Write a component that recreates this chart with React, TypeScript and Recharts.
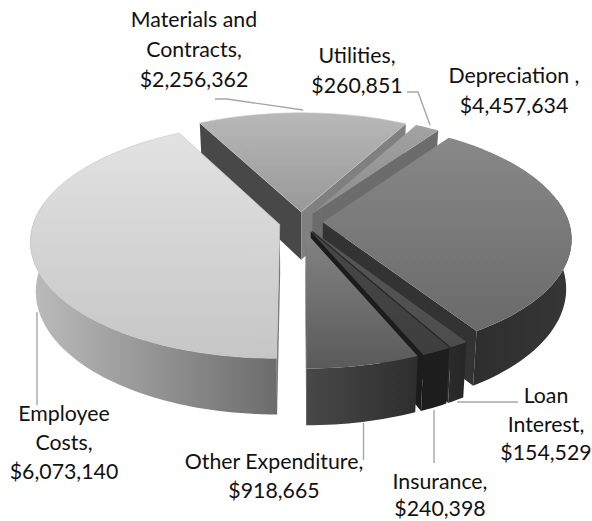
import React from "react";
import { PieChart, Pie } from "recharts";

const categories = ["Materials and Contracts", "Utilities", "Depreciation", "Loan Interest", "Insurance", "Other Expenditure", "Employee Costs"];
const amounts = [2256362, 260851, 4457634, 154529, 240398, 918665, 6073140];
const tableData = categories.map((name, i) => ({ name, value: amounts[i] }));

const labelLines = [
  ["Materials and", "Contracts,", "$2,256,362"],
  ["Utilities,", "$260,851"],
  ["Depreciation ,", "$4,457,634"],
  ["Loan", "Interest,", "$154,529"],
  ["Insurance,", "$240,398"],
  ["Other Expenditure,", "$918,665"],
  ["Employee", "Costs,", "$6,073,140"],
];
// label anchor: centre x, first baseline y
const labelAnchors = [[194, 27], [357, 63], [514, 83], [546, 403], [440, 489], [274, 469], [64, 421]];
const labelLeading = [30, 30, 30, 28.5, 27, 29, 29];
const leaders = [
  "215,99 227,99 303,110",
  "407,92 418,92 430,125",
  "",
  "457,402 518,402",
  "434,410 434,463",
  "363.5,423 363.5,460",
  "37,312 37,405",
];

const topColors = [["#b8b8b8", "#989898"], ["#a2a2a2", "#8c8c8c"], ["#888888", "#6a6a6a"], ["#585858", "#4c4c4c"], ["#484848", "#3e3e3e"], ["#848484", "#5a5a5a"], ["#e2e2e2", "#c6c6c6"]];
const wallColors = [["#808080", "#808080"], ["#6a6a6a", "#6a6a6a"], ["#2e2e2e", "#363636"], ["#2a2a2a", "#262626"], ["#1c1c1c", "#1e1e1e"], ["#484848", "#2e2e2e"], ["#bcbcbc", "#6c6c6c"]];
const startCutColors = ["#484848", "#666666", "#444444", "#333333", "#222222", "#3a3a3a", "#777777"];
const endCutColors = ["#808080", "#6c6c6c", "#333333", "#2a2a2a", "#1c1c1c", "#3a3a3a", "#777777"];

const TILT = 115 / 246;
const PERSP = 0.135;
const DEPTH = 48.5 / 246;
const EXPLODE = 0.0887;
const SHRINK = 0.98;

function Slice(props: any) {
  const { cx, cy, outerRadius: R, startAngle, endAngle, name, payload } = props;
  const idx = categories.indexOf(name ?? payload?.name);
  const th0 = 90 - startAngle;
  const th1 = 90 - endAngle;
  const rad = (d: number) => (d * Math.PI) / 180;
  const mid = rad((th0 + th1) / 2);
  const ou = EXPLODE * Math.sin(mid);
  const ov = EXPLODE * Math.cos(mid);
  const proj = (u: number, v: number, low: boolean) => {
    const d = 1 + PERSP * v;
    let x = (R * u) / d;
    let y = -(R * TILT * v) / d;
    if (low) {
      x *= SHRINK;
      y += (R * DEPTH) / d;
    }
    return [cx + x, cy + y];
  };
  const rim = (t: number, low: boolean) => proj(ou + Math.sin(rad(t)), ov + Math.cos(rad(t)), low);
  const apex = (low: boolean) => proj(ou, ov, low);
  const steps = Math.max(2, Math.ceil((th1 - th0) / 1.5));
  const angles: number[] = [];
  for (let i = 0; i <= steps; i++) angles.push(th0 + ((th1 - th0) * i) / steps);
  const topArc = angles.map((t) => rim(t, false));
  const frontAngles = angles.filter((t) => Math.cos(rad(t)) < 0.2);
  const path = (pts: number[][]) => "M" + pts.map((p) => p[0].toFixed(2) + " " + p[1].toFixed(2)).join("L") + "Z";
  const startVisible = Math.sin(rad(th0)) < 0.001;
  const endVisible = Math.sin(rad(th1)) > -0.001;
  const idT = "top" + idx;
  const idW = "wall" + idx;
  return (
    <g>
      <defs>
        <linearGradient id={idT} x1="0" y1="0" x2="0" y2="1">
          <stop offset="0" stopColor={topColors[idx][0]} />
          <stop offset="1" stopColor={topColors[idx][1]} />
        </linearGradient>
        <linearGradient id={idW} x1="0" y1="0" x2="1" y2="0">
          <stop offset="0" stopColor={wallColors[idx][0]} />
          <stop offset="1" stopColor={wallColors[idx][1]} />
        </linearGradient>
      </defs>
      {startVisible && (
        <path d={path([apex(false), rim(th0, false), rim(th0, true), apex(true)])} fill={startCutColors[idx]} />
      )}
      {endVisible && (
        <path d={path([apex(false), rim(th1, false), rim(th1, true), apex(true)])} fill={endCutColors[idx]} />
      )}
      {frontAngles.length > 1 && (
        <path
          d={path([...frontAngles.map((t) => rim(t, false)), ...frontAngles.slice().reverse().map((t) => rim(t, true))])}
          fill={`url(#${idW})`}
        />
      )}
      <path d={path([apex(false), ...topArc])} fill={`url(#${idT})`} stroke={idx === 6 || idx === 0 ? "#c4c4c4" : "none"} strokeWidth={0.6} />
    </g>
  );
}

function SliceLabel(props: any) {
  const idx = categories.indexOf(props.name ?? props.payload?.name);
  const [x, y] = labelAnchors[idx];
  return (
    <g>
      {leaders[idx] && <polyline points={leaders[idx]} fill="none" stroke="#a6a6a6" strokeWidth={1.4} />}
      <text x={x} y={y} textAnchor="middle" fontFamily="Lato" fontSize={21.3} fill="#111111">
        {labelLines[idx].map((line, i) => (
          <tspan key={i} x={x} y={y + i * labelLeading[idx]}>
            {line}
          </tspan>
        ))}
      </text>
    </g>
  );
}

export default function App() {
  return (
    <div style={{ position: "absolute", left: 0, top: 0, width: 592, height: 521, background: "#fff" }}>
      <PieChart width={592} height={521} margin={{ top: 0, right: 0, bottom: 0, left: 0 }}>
        <Pie
          data={tableData}
          dataKey="value"
          nameKey="name"
          cx={301}
          cy={222}
          innerRadius={0}
          outerRadius={246}
          startAngle={117.8}
          endAngle={-242.2}
          stroke="none"
          shape={Slice}
          label={SliceLabel}
          labelLine={false}
          isAnimationActive={false}
        />
      </PieChart>
    </div>
  );
}
